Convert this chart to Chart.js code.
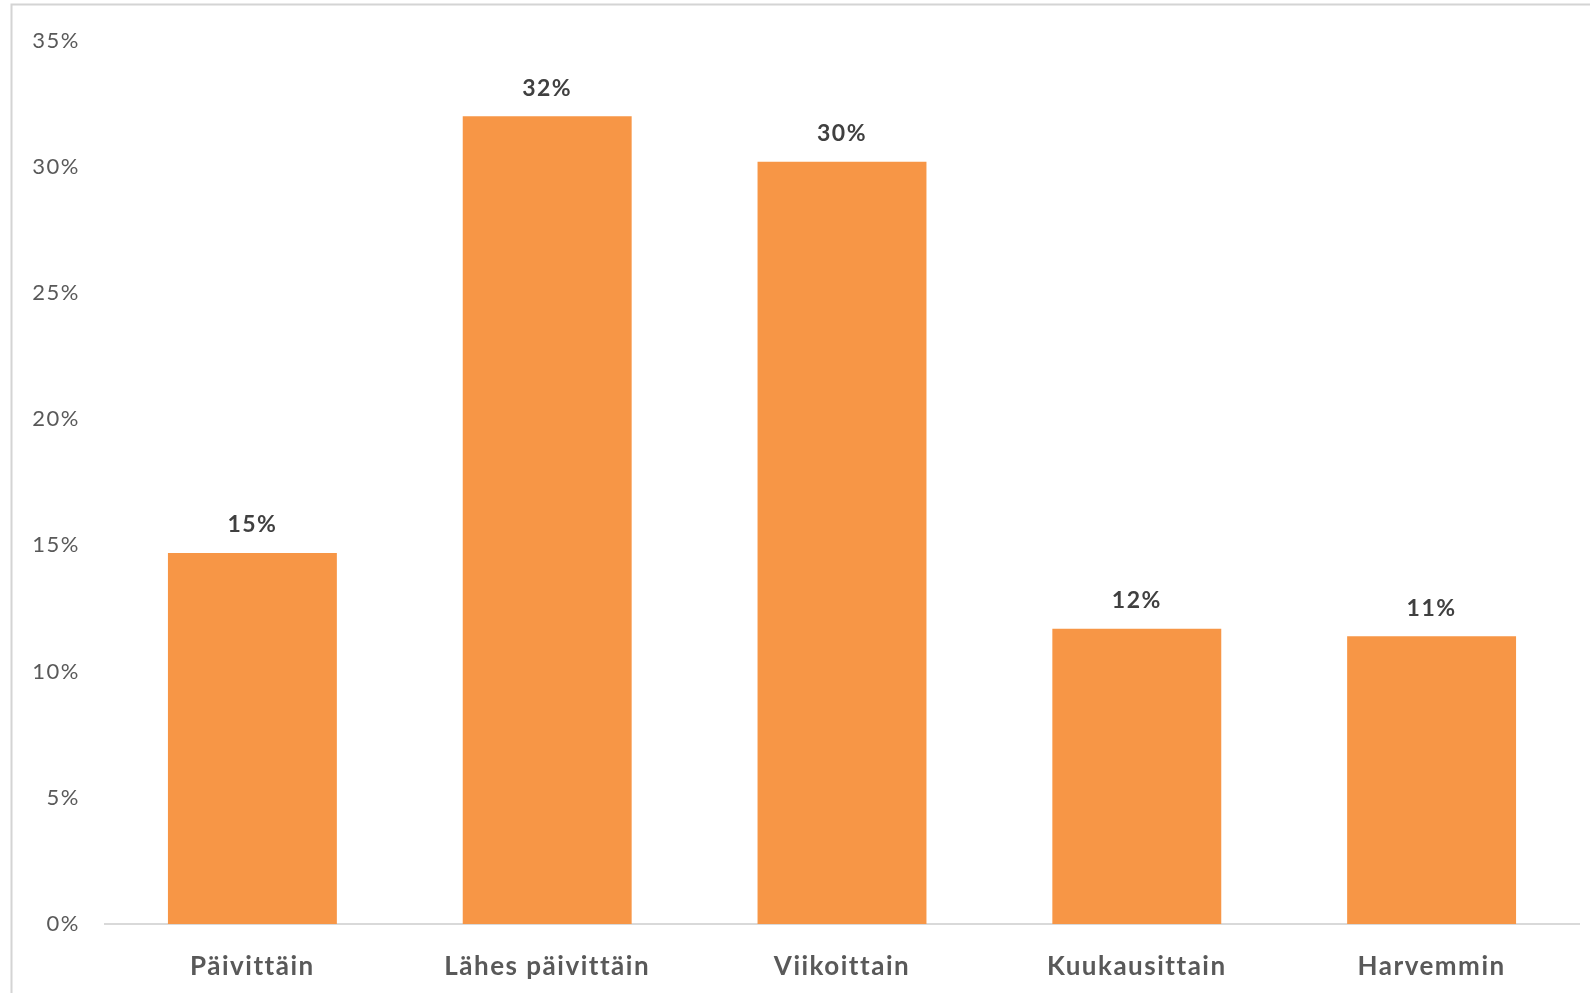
<!DOCTYPE html>
<html lang="fi">
<head>
    <meta charset="UTF-8">
    <title>Käyttötiheys</title>
    <script src="https://cdn.jsdelivr.net/npm/chart.js"></script>
    <style>
        html, body { margin: 0; padding: 0; background: #fff; }
        #wrap { width: 1590px; height: 993px; position: relative; }
    </style>
</head>
<body>
    <div id="wrap"><canvas id="barChart"></canvas></div>

    <script>
        const categories = ['Päivittäin', 'Lähes päivittäin', 'Viikoittain', 'Kuukausittain', 'Harvemmin'];
        const shares = [14.7, 32.0, 30.2, 11.7, 11.4];
        const yTicks = [0, 5, 10, 15, 20, 25, 30, 35];

        // thin grey frame along the top and left edge, plus a little letter spacing for all text
        const frame = {
            id: 'frame',
            beforeDraw(chart) {
                const c = chart.ctx;
                c.save();
                c.strokeStyle = '#d4d4d4';
                c.lineWidth = 2;
                c.beginPath();
                c.moveTo(11.5, chart.height);
                c.lineTo(11.5, 4.5);
                c.lineTo(chart.width, 4.5);
                c.stroke();
                c.restore();
                c.letterSpacing = '1.5px';
            }
        };

        // value labels above each bar
        const valueLabels = {
            id: 'valueLabels',
            afterDatasetsDraw(chart) {
                const c = chart.ctx;
                const meta = chart.getDatasetMeta(0);
                c.save();
                c.font = 'bold 23px Lato';
                c.fillStyle = '#404040';
                c.textAlign = 'center';
                c.textBaseline = 'middle';
                meta.data.forEach((bar, i) => {
                    c.fillText(Math.round(shares[i]) + '%', bar.x, bar.y - 28);
                });
                c.restore();
            }
        };

        new Chart(document.getElementById('barChart'), {
            type: 'bar',
            data: {
                labels: categories,
                datasets: [{
                    data: shares,
                    backgroundColor: '#F79646',
                    categoryPercentage: 1,
                    barPercentage: 0.573
                }]
            },
            options: {
                responsive: true,
                maintainAspectRatio: false,
                animation: false,
                layout: { padding: { top: 40.5, right: 11, left: 0, bottom: 0 } },
                plugins: { legend: { display: false }, tooltip: { enabled: false } },
                scales: {
                    x: {
                        grid: { display: false },
                        border: { color: '#d9d9d9', width: 2 },
                        ticks: {
                            color: '#595959',
                            padding: 19,
                            font: { family: 'Lato', size: 26, weight: 'bold' }
                        },
                        afterFit(scale) { scale.height = 69; }
                    },
                    y: {
                        min: 0,
                        max: 35,
                        grid: { display: false },
                        border: { display: false },
                        afterBuildTicks(scale) {
                            scale.ticks = yTicks.map(v => ({ value: v }));
                        },
                        ticks: {
                            color: '#595959',
                            padding: 17,
                            font: { family: 'Lato', size: 22 },
                            callback: v => v + '%'
                        },
                        afterFit(scale) { scale.width = 105; }
                    }
                }
            },
            plugins: [frame, valueLabels]
        });
    </script>
</body>
</html>
